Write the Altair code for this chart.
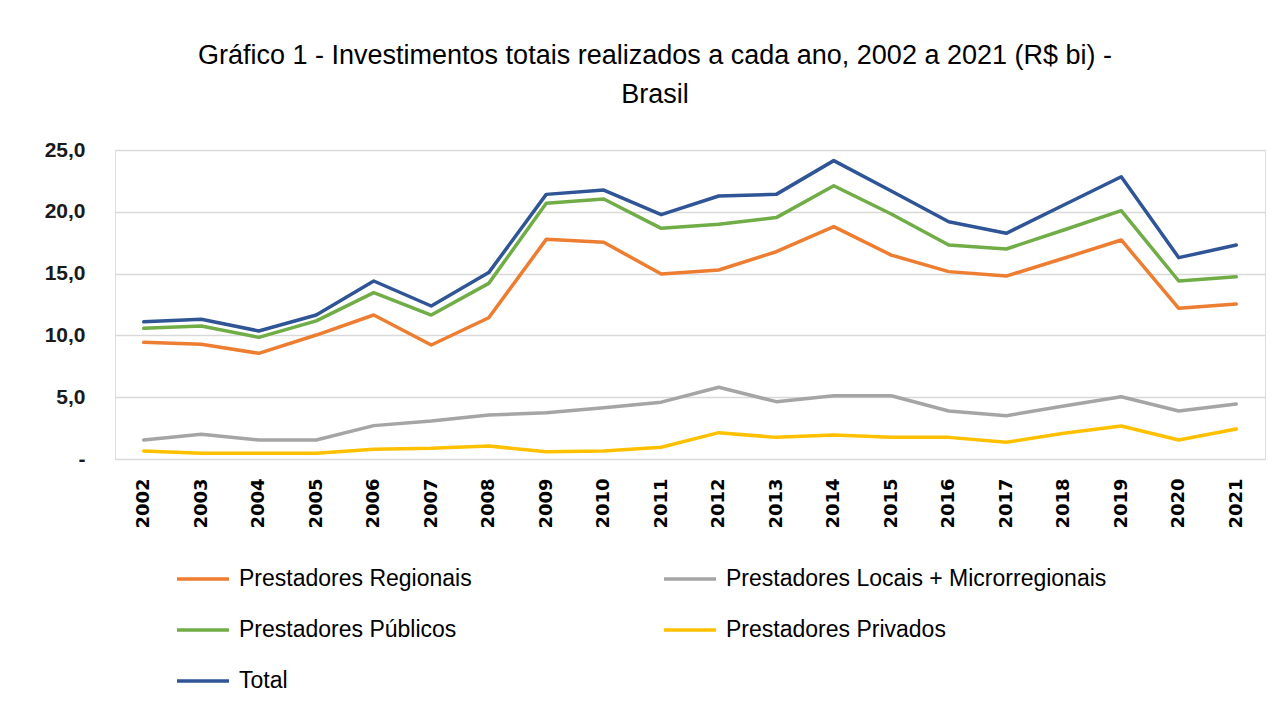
import altair as alt
import pandas as pd

years = [str(y) for y in range(2002, 2022)]

regionais = [9.44, 9.28, 8.55, 10.03, 11.65, 9.22, 11.43, 17.77, 17.53, 14.97,
             15.29, 16.77, 18.80, 16.50, 15.16, 14.80, 16.24, 17.72, 12.19, 12.54]
locais = [1.54, 2.00, 1.54, 1.54, 2.70, 3.07, 3.56, 3.75, 4.15, 4.60,
          5.80, 4.64, 5.12, 5.12, 3.88, 3.50, 4.29, 5.04, 3.88, 4.45]
publicos = [10.57, 10.76, 9.84, 11.17, 13.46, 11.65, 14.21, 20.69, 21.04, 18.66,
            18.99, 19.53, 22.11, 19.82, 17.31, 16.99, 18.53, 20.09, 14.40, 14.75]
privados = [0.65, 0.46, 0.46, 0.46, 0.78, 0.86, 1.05, 0.59, 0.65, 0.95,
            2.13, 1.75, 1.94, 1.75, 1.75, 1.35, 2.08, 2.67, 1.54, 2.43]
total = [11.10, 11.30, 10.36, 11.65, 14.40, 12.38, 15.08, 21.41, 21.76, 19.77,
         21.28, 21.41, 24.14, 21.68, 19.20, 18.26, 20.55, 22.84, 16.29, 17.31]

series_names = ["Prestadores Regionais", "Prestadores Locais + Microrregionais",
                "Prestadores Públicos", "Prestadores Privados", "Total"]
series_values = [regionais, locais, publicos, privados, total]
colors = ["#ED7D31", "#A5A5A5", "#70AD47", "#FFC000", "#2F5597"]

rows = []
for name, vals in zip(series_names, series_values):
    for y, v in zip(years, vals):
        rows.append({"Ano": y, "Série": name, "Valor": v})
df = pd.DataFrame(rows)

title_lines = ["Gráfico 1 - Investimentos totais realizados a cada ano, 2002 a 2021 (R$ bi) -",
               "Brasil"]

chart = alt.Chart(df).mark_line(strokeWidth=3.5, strokeCap="round", strokeJoin="round").encode(
    x=alt.X("Ano:O", sort=years, title=None,
            scale=alt.Scale(type="point", padding=0.5),
            axis=alt.Axis(labelAngle=-90, labelFont="DejaVu Sans", labelFontWeight="bold",
                          labelFontSize=18, labelColor="#000000", ticks=False, domain=False,
                          labelPadding=19, grid=False)),
    y=alt.Y("Valor:Q", title=None,
            scale=alt.Scale(domain=[0, 25], nice=False),
            axis=alt.Axis(values=[0, 5, 10, 15, 20, 25], ticks=False, domain=False,
                          labelFont="Liberation Sans", labelFontWeight="bold", labelFontSize=21,
                          labelColor="#1a1a1a", labelPadding=30,
                          labelExpr="datum.value == 0 ? '-\u00a0\u00a0' : replace(format(datum.value, '.1f'), '.', ',')",
                          gridColor="#D9D9D9", gridWidth=1.5)),
    color=alt.Color("Série:N", sort=series_names,
                    scale=alt.Scale(domain=series_names, range=colors),
                    legend=alt.Legend(title=None, orient="none", legendX=60, legendY=401,
                                      direction="horizontal",
                                      columns=2, columnPadding=185, rowPadding=11,
                                      symbolType="stroke", symbolSize=2700, symbolStrokeWidth=3.5,
                                      labelFont="Liberation Sans", labelFontSize=23,
                                      labelColor="#000000", labelOffset=8, labelLimit=500)),
    order=alt.Order("Série:N")
).properties(
    width=1150,
    height=309,
    autosize=alt.AutoSizeParams(type="none"),
    padding={"left": 107, "top": 142, "right": 5, "bottom": 242},
    title=alt.TitleParams(text=title_lines, anchor="middle", frame="group", dx=-35, offset=30,
                          font="Liberation Sans", fontSize=27, fontWeight="normal",
                          color="#000000", lineHeight=39)
).configure_view(stroke=None).configure(background="white")

chart.save("out.html", embed_options={"renderer": "svg", "actions": False})
